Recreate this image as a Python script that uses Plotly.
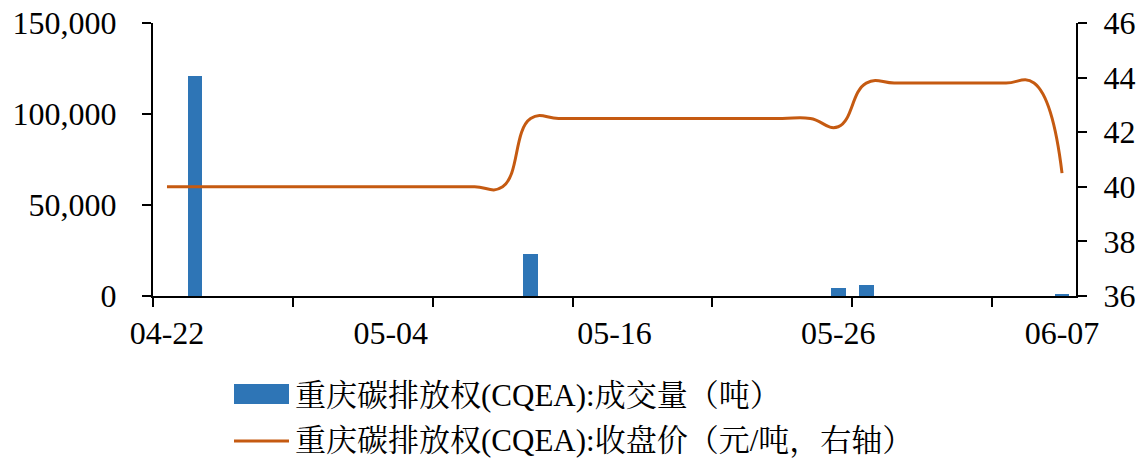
import plotly.graph_objects as go

# ---------------- data ----------------
dates = ["04-22", "04-23", "04-24", "04-25", "04-26", "04-27", "04-28", "04-29",
         "05-04", "05-05", "05-08", "05-09", "05-10", "05-11", "05-12", "05-15",
         "05-16", "05-17", "05-18", "05-19", "05-22", "05-23", "05-24", "05-25",
         "05-26", "05-29", "05-30", "05-31", "06-01", "06-02", "06-05", "06-06",
         "06-07"]
volume = [0, 121000, 0, 0, 0, 0, 0, 0,
          0, 0, 0, 0, 0, 23200, 0, 0,
          0, 0, 0, 0, 0, 0, 0, 0,
          4400, 5800, 0, 0, 0, 0, 0, 0,
          1000]
price = [40.0, 40.0, 40.0, 40.0, 40.0, 40.0, 40.0, 40.0,
         40.0, 40.0, 40.0, 40.0, 40.0, 42.5, 42.5, 42.5,
         42.5, 42.5, 42.5, 42.5, 42.5, 42.5, 42.5, 42.5,
         42.2, 43.8, 43.8, 43.8, 43.8, 43.8, 43.8, 43.8,
         40.5]
label_idx = [0, 8, 16, 24, 32]
name_vol = "重庆碳排放权(CQEA):成交量（吨）"
name_price = "重庆碳排放权(CQEA):收盘价（元/吨，右轴）"

BAR_COLOR = "#2E75B6"
LINE_COLOR = "#C55A11"
FONT = "Liberation Serif, Times New Roman, Noto Serif CJK SC, Noto Sans CJK SC, serif"
TICK_SIZE = 32

x = list(range(len(dates)))

fig = go.Figure()
fig.add_trace(go.Bar(x=x, y=volume, name=name_vol, marker_color=BAR_COLOR,
                     marker_line_width=0, width=0.53, yaxis="y"))
fig.add_trace(go.Scatter(x=x, y=price, name=name_price, mode="lines",
                         line=dict(color=LINE_COLOR, width=3, shape="spline", smoothing=1.3),
                         yaxis="y2"))

W, H = 1138, 460
ml, mr, mt, mb = 153, 62, 23, 164
pw, ph = W - ml - mr, H - mt - mb


def px2paper_x(px):
    return (px - ml) / pw


def px2paper_y(py):
    return (H - mb - py) / ph


fig.update_layout(
    width=W, height=H,
    margin=dict(l=ml, r=mr, t=mt, b=mb, pad=0, autoexpand=False),
    paper_bgcolor="white", plot_bgcolor="white",
    font=dict(family=FONT, size=30, color="#000000"),
    showlegend=False,
    bargap=0,
    xaxis=dict(
        range=[-0.5, len(dates) - 0.5], automargin=False,
        tickmode="array", tickvals=[x[i] for i in label_idx],
        ticktext=[dates[i] for i in label_idx],
        ticks="", showgrid=False, zeroline=False,
        showline=True, linecolor="#000000", linewidth=2,
        ticklabelstandoff=8,
        tickfont=dict(family=FONT, size=TICK_SIZE),
        minor=dict(tickmode="array",
                   tickvals=[v - 0.5 for v in range(0, len(dates), 5)],
                   ticks="outside", ticklen=9, tickwidth=2, tickcolor="#000000",
                   showgrid=False),
    ),
    yaxis=dict(
        range=[0, 150000], tickvals=[0, 50000, 100000, 150000], tickformat=",",
        automargin=False,
        ticks="outside", ticklen=9, tickwidth=2, tickcolor="#000000",
        showline=True, linecolor="#000000", linewidth=2,
        showgrid=False, zeroline=False,
        ticklabelstandoff=19,
        tickfont=dict(family=FONT, size=TICK_SIZE),
    ),
    yaxis2=dict(
        range=[36, 46], tickvals=[36, 38, 40, 42, 44, 46],
        overlaying="y", side="right", automargin=False,
        ticks="outside", ticklen=9, tickwidth=2, tickcolor="#000000",
        showline=True, linecolor="#000000", linewidth=2,
        showgrid=False, zeroline=False,
        ticklabelstandoff=10,
        tickfont=dict(family=FONT, size=TICK_SIZE),
    ),
)

# legend drawn below the plot
fig.add_shape(type="rect", xref="paper", yref="paper",
              x0=px2paper_x(234), x1=px2paper_x(289),
              y0=px2paper_y(404), y1=px2paper_y(384),
              fillcolor=BAR_COLOR, line=dict(width=0))
fig.add_shape(type="line", xref="paper", yref="paper",
              x0=px2paper_x(234), x1=px2paper_x(289),
              y0=px2paper_y(441), y1=px2paper_y(441),
              line=dict(color=LINE_COLOR, width=3))
fig.add_annotation(text=name_vol, xref="paper", yref="paper",
                   x=px2paper_x(293), y=px2paper_y(395), xanchor="left", yanchor="middle",
                   showarrow=False, font=dict(family=FONT, size=31, color="#000000"))
fig.add_annotation(text=name_price, xref="paper", yref="paper",
                   x=px2paper_x(293), y=px2paper_y(441), xanchor="left", yanchor="middle",
                   showarrow=False, font=dict(family=FONT, size=31, color="#000000"))

fig.write_html(
    "out.html",
    config={"displayModeBar": False},
    post_script="document.body.style.margin='0';document.body.style.overflow='hidden';",
)
